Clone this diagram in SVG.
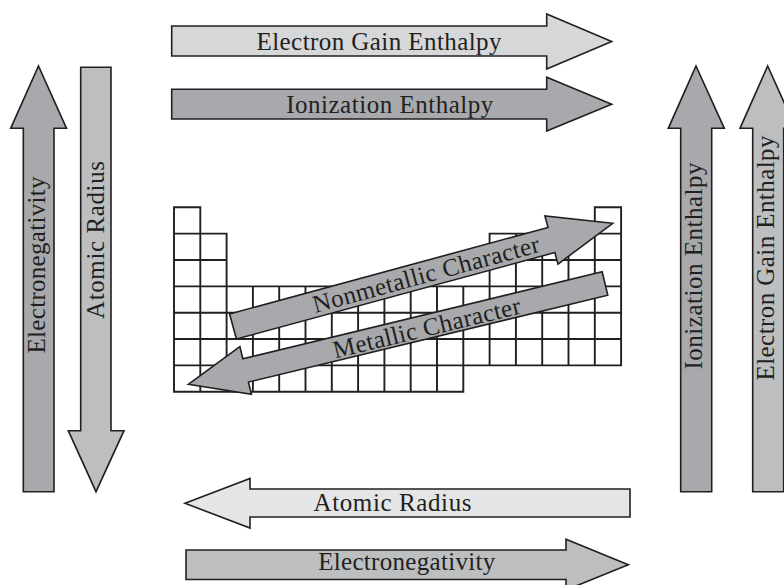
<svg xmlns="http://www.w3.org/2000/svg" width="784" height="585" viewBox="0 0 784 585">
<style>
.arr{stroke:#231f20;stroke-width:1.6;stroke-linejoin:miter}
.d{fill:#a7a9ac}
.m{fill:#bcbec0}
.l{fill:#d6d7d9}
.xl{fill:#e4e5e6}
.t{font-family:"Liberation Serif","Times New Roman",serif;font-size:25px;fill:#231f20;text-anchor:middle}
.grid{fill:none;stroke:#231f20;stroke-width:1.9;stroke-linecap:square}
</style>
<rect width="784" height="585" fill="#ffffff"/>
<g id="table">
<path class="grid" d="M174,207.3H200.3M594.8,207.3H621.1M174,233.65H226.6M489.6,233.65H621.1M174,260H226.6M489.6,260H621.1M174,286.35H621.1M174,312.7H621.1M174,339.05H621.1M174,365.4H621.1M174,391.75H463.3M174,207.3V391.75M200.3,207.3V391.75M226.6,233.65V391.75M252.9,286.35V391.75M279.2,286.35V391.75M305.5,286.35V391.75M331.8,286.35V391.75M358.1,286.35V391.75M384.4,286.35V391.75M410.7,286.35V391.75M437,286.35V391.75M463.3,286.35V391.75M489.6,233.65V365.4M515.9,233.65V365.4M542.2,233.65V365.4M568.5,233.65V365.4M594.8,207.3V365.4M621.1,207.3V365.4"/>
</g>
<g id="top-electron-gain">
<polygon class="arr l" points="171.7,26 546.7,26 546.7,14 611.7,41.5 546.7,69 546.7,56 171.7,56"/>
<text class="t" x="379" y="50" textLength="245">Electron Gain Enthalpy</text>
</g>
<g id="top-ionization">
<polygon class="arr d" points="171.7,89.3 546.7,89.3 546.7,77.3 611.7,104.2 546.7,131 546.7,119 171.7,119"/>
<text class="t" x="389.7" y="112.7" textLength="207">Ionization Enthalpy</text>
</g>
<g id="left-electronegativity">
<polygon class="arr d" points="38.5,66 66.5,128.3 54,128.3 54,491.7 23.3,491.7 23.3,128.3 10.7,128.3"/>
<text class="t" transform="translate(45,265) rotate(-90)" textLength="177">Electronegativity</text>
</g>
<g id="left-atomic-radius">
<polygon class="arr m" points="80.7,67.3 111,67.3 111,430.7 124,430.7 96,491.7 68.3,430.7 80.7,430.7"/>
<text class="t" transform="translate(104,240) rotate(-90)" textLength="158">Atomic Radius</text>
</g>
<g id="right-ionization">
<polygon class="arr d" points="696,66 724.3,128.3 711.7,128.3 711.7,491.7 680.7,491.7 680.7,128.3 668.3,128.3"/>
<text class="t" transform="translate(701.5,266) rotate(-90)" textLength="207">Ionization Enthalpy</text>
</g>
<g id="right-electron-gain">
<polygon class="arr m" points="767.7,66 795.7,128.3 783.7,128.3 783.7,491.7 752.7,491.7 752.7,128.3 740,128.3"/>
<text class="t" transform="translate(773.5,258) rotate(-90)" textLength="245">Electron Gain Enthalpy</text>
</g>
<g id="bottom-atomic-radius">
<polygon class="arr xl" points="185,503.3 250,478.5 250,489 630,489 630,517 250,517 250,528"/>
<text class="t" x="392.5" y="511" textLength="158">Atomic Radius</text>
</g>
<g id="bottom-electronegativity">
<polygon class="arr m" points="186,550 566,550 566,539.3 628.3,564.7 566,590 566,579.5 186,579.5"/>
<text class="t" x="406.7" y="570" textLength="177">Electronegativity</text>
</g>
<g id="nonmetallic" transform="translate(233,326.5) rotate(-15.2)">
<polygon class="arr d" points="0,-13 330,-13 330,-25 393.5,0 330,25 330,13 0,13"/>
<text class="t" x="200" y="8.5" textLength="234">Nonmetallic Character</text>
</g>
<g id="metallic" transform="translate(188.3,384.3) rotate(-13.6)">
<polygon class="arr d" points="0,0 59,-24.5 59,-12 428.7,-12 428.7,12 59,12 59,24.5"/>
<text class="t" x="245" y="9.5" textLength="192">Metallic Character</text>
</g>
</svg>
